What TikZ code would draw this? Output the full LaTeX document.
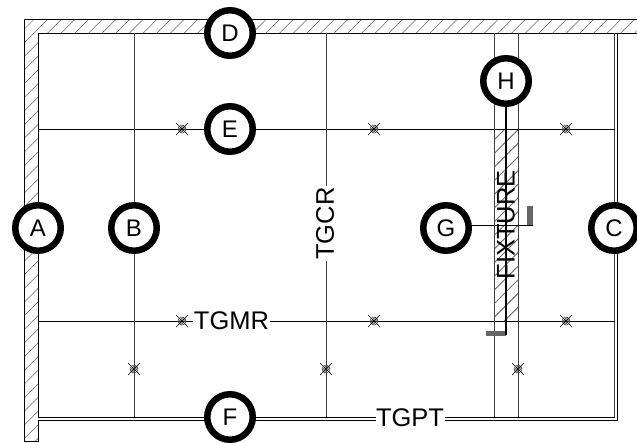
\documentclass[tikz,border=0pt]{standalone}
\usepackage{fontspec}
\setmainfont{Liberation Sans}
\tikzset{
  grid line/.style={line width=0.9pt,black!75},
  wall line/.style={line width=0.9pt,black},
  hatch line/.style={line width=0.5pt,black!60},
  thick gray/.style={line width=5.5pt,black!60},
  lead line/.style={line width=1.4pt,black},
  bubble/.style={circle,draw=black,fill=white,line width=6.5pt,minimum size=45.5pt,inner sep=0pt,font=\fontsize{24}{24}\selectfont},
  tag/.style={fill=white,inner sep=1pt,font=\fontsize{25.5}{25.5}\selectfont},
  plain tag/.style={inner sep=0pt,font=\fontsize{25.5}{25.5}\selectfont},
  fixing/.style={circle,draw=black!75,line width=0.5pt,minimum size=8pt,inner sep=0pt,path picture={
    \foreach \k in {-3,-1.5,0,1.5,3}{\draw[line width=0.4pt,black!70] (\k-6pt,-6pt) -- (\k+6pt,6pt);}}},
}
\newcommand{\fixmark}[3]{%
  \node[fixing] (#1) at (#2,#3) {};
  \draw[line width=0.6pt,black] (#2-6,#3-6) -- (#2+6,#3+6) (#2-6,#3+6) -- (#2+6,#3-6);}
\begin{document}
\begin{tikzpicture}[x=1pt,y=-1pt]
\useasboundingbox (0,0) rectangle (637,443);
% hatching
\begin{scope}
  \clip (24.5,19.5) -- (637,19.5) -- (637,33) -- (38,33) -- (38,441) -- (24.5,441) -- cycle;
  \foreach \n in {0,...,65}{\pgfmathsetmacro{\s}{26.1+\n*13.65}\draw[hatch line] (\s-450,450) -- (\s,0);}
\end{scope}
\begin{scope}
  \clip (494,129) rectangle (518,321);
  \foreach \n in {0,...,65}{\pgfmathsetmacro{\s}{6.4+\n*13.65}\draw[hatch line] (\s-450,450) -- (\s,0);}
  \foreach \n in {0,...,65}{\pgfmathsetmacro{\s}{6.4+\n*13.65+450}\draw[hatch line] (\s-450,450) -- (\s,0);}
\end{scope}
% walls
\draw[wall line] (637,19.5) -- (24.5,19.5) -- (24.5,441) -- (38,441) -- (38,420);
\draw[wall line] (38,417.3) -- (38,33) -- (637,33);
\draw[wall line] (38,417.3) -- (494,417.3);
\draw[wall line] (494,417.3) -- (614.5,417.3);
\draw[wall line] (38,420.3) -- (617.5,420.3) -- (617.5,33);
\draw[grid line,line width=1.2pt] (614.5,417.3) -- (614.5,33);
% grid
\draw[grid line] (134,33) -- (134,417.3);
\draw[grid line] (326,33) -- (326,417.3);
\draw[grid line] (494,33) -- (494,417.3);
\draw[grid line] (518,33) -- (518,417.3);
\draw[wall line] (38,129) -- (614.5,129);
\draw[wall line] (38,321) -- (614.5,321);
% fixings
\fixmark{m1}{182}{129}
\fixmark{m2}{374}{129}
\fixmark{m3}{566}{129}
\fixmark{m4}{182}{321}
\fixmark{m5}{374}{321}
\fixmark{m6}{566}{321}
\fixmark{m7}{134}{369}
\fixmark{m8}{326}{369}
\fixmark{m9}{518}{369}
% labels
\node[tag,inner xsep=0.5pt,inner ysep=0pt] (tgmr) at (231.5,321) {TGMR};
\node[tag,rotate=90,inner xsep=1pt,inner ysep=0pt] (tgcr) at (325,223.5) {TGCR};
\node[tag,inner xsep=0.5pt,inner ysep=0pt] (tgpt) at (410,418) {TGPT};
% leaders
\coordinate (hend) at (506,335);
\coordinate (gend) at (533,225.5);
\coordinate (hbar) at (486,333.5);
\coordinate (gbar) at (530,206);
\draw[thick gray] (hbar) -- (hbar-|hend);
\draw[thick gray] (gbar) -- (gbar|-gend);
\node[bubble] (H) at (506,81) {H};
\node[bubble] (G) at (446,228) {G};
\draw[lead line] (H) -- (hend);
\draw[lead line] (G.east|-gend) -- (gend);
\node[plain tag,rotate=90] (fixture) at (506,225) {FIXTURE};
% bubbles
\node[bubble] (A) at (38,228) {A};
\node[bubble] (B) at (134,228) {B};
\node[bubble] (C) at (614,228) {C};
\node[bubble] (D) at (230,33) {D};
\node[bubble] (E) at (230,129) {E};
\node[bubble] (F) at (230,417) {F};
\end{tikzpicture}
\end{document}
